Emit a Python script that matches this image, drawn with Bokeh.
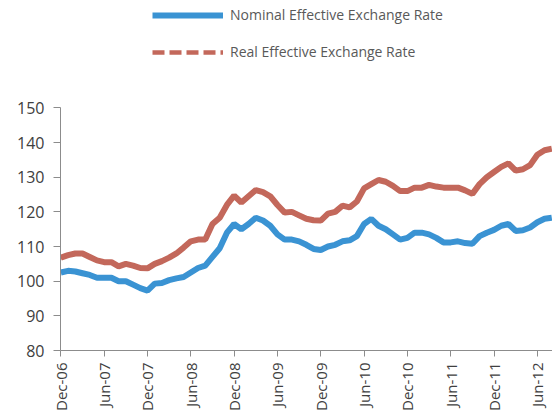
import math
from bokeh.plotting import figure
from bokeh.models import FixedTicker, Legend, LegendItem, Range1d, ColumnDataSource
from bokeh.embed import file_html
from bokeh.resources import INLINE

# Monthly index values, Dec-06 .. Aug-12
nominal = [102.5, 103.0, 102.8, 102.3, 101.8, 101.0, 101.0, 101.0, 100.0, 100.0,
           99.0, 98.0, 97.3, 99.3, 99.5, 100.3, 100.8, 101.2, 102.5, 103.8,
           104.5, 107.0, 109.5, 114.0, 116.5, 115.0, 116.5, 118.3, 117.5, 116.0,
           113.5, 112.0, 112.0, 111.5, 110.5, 109.3, 109.0, 110.0, 110.5, 111.5,
           111.8, 113.0, 116.5, 118.0, 116.0, 115.0, 113.5, 112.0, 112.5, 114.0,
           114.0, 113.5, 112.5, 111.2, 111.2, 111.5, 111.0, 110.8, 113.0, 114.0,
           114.8, 116.0, 116.5, 114.5, 114.7, 115.5, 117.0, 118.0, 118.3]
real = [106.8, 107.5, 108.0, 108.0, 107.0, 106.0, 105.5, 105.5, 104.3, 105.0,
        104.5, 103.8, 103.7, 105.0, 105.8, 106.8, 108.0, 109.7, 111.5, 112.0,
        112.0, 116.5, 118.3, 122.0, 124.7, 122.7, 124.5, 126.3, 125.7, 124.5,
        122.0, 119.8, 120.0, 119.0, 118.0, 117.6, 117.5, 119.5, 120.0, 121.8,
        121.3, 123.0, 126.8, 128.0, 129.2, 128.7, 127.5, 126.0, 126.0, 127.0,
        127.0, 127.8, 127.3, 127.0, 127.0, 127.0, 126.2, 125.2, 128.0, 130.0,
        131.5, 133.0, 134.0, 131.9, 132.3, 133.5, 136.5, 137.8, 138.2]
months = list(range(len(nominal)))
tick_positions = [0, 6, 12, 18, 24, 30, 36, 42, 48, 54, 60, 66]
tick_labels = ["Dec-06", "Jun-07", "Dec-07", "Jun-08", "Dec-08", "Jun-09",
               "Dec-09", "Jun-10", "Dec-10", "Jun-11", "Dec-11", "Jun-12"]
y_ticks = [80, 90, 100, 110, 120, 130, 140, 150]

BLUE = "#3A93D3"
RED = "#C3685B"
TXT = "#404040"
AX = "#8C8C8C"

p = figure(width=552, height=416, output_backend="svg", toolbar_location=None,
           x_range=Range1d(-0.05, 68.1), y_range=Range1d(80, 181.0),
           min_border_left=60, min_border_right=0, min_border_top=0,
           min_border_bottom=66)
p.outline_line_color = None
p.xgrid.visible = False
p.ygrid.visible = False
p.background_fill_color = "white"
p.border_fill_color = "white"

src = ColumnDataSource(dict(x=months, nom=nominal, real=real))
# dashed version (used for the legend sample) drawn underneath the solid line
r_real_leg = p.line("x", "real", source=src, line_color=RED, line_width=4.5, line_dash="12 5")
r_nom = p.line("x", "nom", source=src, line_color=BLUE, line_width=6)
p.line("x", "real", source=src, line_color=RED, line_width=6)

legend = Legend(items=[LegendItem(label="Nominal Effective Exchange Rate", renderers=[r_nom]),
                       LegendItem(label="Real Effective Exchange Rate", renderers=[r_real_leg])],
                location=(92, 289), orientation="vertical",
                glyph_width=71, glyph_height=18, label_height=18, spacing=18,
                padding=0, margin=0, label_standoff=7,
                label_text_font="Open Sans", label_text_font_size="14px",
                label_text_color="#595959",
                border_line_color=None, background_fill_alpha=0)
p.add_layout(legend, "center")

xa = p.xaxis[0]
xa.ticker = FixedTicker(ticks=tick_positions)
xa.major_label_overrides = {t: l for t, l in zip(tick_positions, tick_labels)}
xa.major_label_orientation = math.pi / 2
xa.minor_tick_line_color = None
xa.major_tick_in = 0
xa.major_tick_out = 6
xa.axis_line_color = AX
xa.major_tick_line_color = AX
xa.major_label_text_font = "Open Sans"
xa.major_label_text_font_size = "15px"
xa.major_label_text_color = TXT
xa.major_label_standoff = 6

ya = p.yaxis[0]
ya.ticker = FixedTicker(ticks=y_ticks)
ya.bounds = (80, 150)
ya.minor_tick_line_color = None
ya.major_tick_in = 0
ya.major_tick_out = 7
ya.axis_line_color = AX
ya.major_tick_line_color = AX
ya.major_label_text_font = "Open Sans"
ya.major_label_text_font_size = "16px"
ya.major_label_text_color = TXT
ya.major_label_standoff = 9

open("out.html", "w").write(file_html(p, INLINE))
